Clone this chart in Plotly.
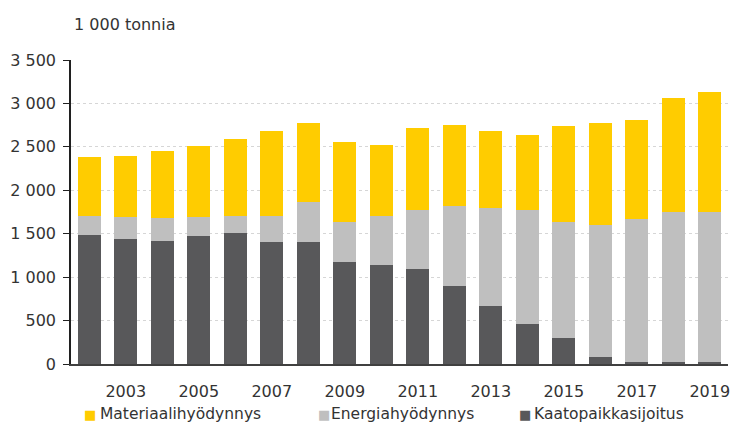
import plotly.graph_objects as go

years = list(range(2002, 2020))
kaatopaikka = [1480, 1440, 1420, 1470, 1505, 1400, 1400, 1175, 1140, 1095, 895, 665, 460, 305, 75, 20, 20, 20]
energia = [220, 250, 265, 220, 200, 305, 465, 455, 560, 675, 920, 1135, 1315, 1325, 1520, 1650, 1730, 1730]
materiaali = [685, 705, 770, 815, 885, 975, 910, 930, 825, 950, 935, 885, 860, 1115, 1180, 1140, 1310, 1380]

names = ["Materiaalihyödynnys", "Energiahyödynnys", "Kaatopaikkasijoitus"]
colors = ["#FFCC00", "#BFBFBF", "#58585A"]
tick_years = list(range(2003, 2020, 2))
y_ticks = [0, 500, 1000, 1500, 2000, 2500, 3000, 3500]

font = "DejaVu Sans, Liberation Sans, sans-serif"
txt = "#333333"

fig = go.Figure()
fig.add_bar(x=years, y=kaatopaikka, name=names[2], marker_color=colors[2])
fig.add_bar(x=years, y=energia, name=names[1], marker_color=colors[1])
fig.add_bar(x=years, y=materiaali, name=names[0], marker_color=colors[0])
fig.update_traces(marker_line_width=0)

# plot area geometry (px) used to place the legend text
L, T, W, H = 71, 60, 657, 304
def px(x):
    return (x - L) / W
def py(y):
    return (T + H - y) / H

annotations = [dict(text="1 000 tonnia", xref="paper", yref="paper", x=px(72), y=py(24.5),
                    xanchor="left", yanchor="middle", showarrow=False,
                    font=dict(size=16, color=txt))]
legend_sym_x = [90, 323.5, 525]
legend_txt_x = [98, 329, 532]
for name, col, sx, tx in zip(names, colors, legend_sym_x, legend_txt_x):
    annotations.append(dict(text="■", xref="paper", yref="paper", x=px(sx), y=py(415),
                            xanchor="center", yanchor="middle", showarrow=False,
                            font=dict(size=13, color=col)))
    annotations.append(dict(text=name, xref="paper", yref="paper", x=px(tx), y=py(414),
                            xanchor="left", yanchor="middle", showarrow=False,
                            font=dict(size=15.5, color=txt)))

fig.update_layout(
    width=732, height=423,
    barmode="stack", bargap=0.37,
    plot_bgcolor="white", paper_bgcolor="white",
    margin=dict(l=L, r=732 - L - W, t=T, b=423 - T - H, autoexpand=False),
    font=dict(family=font, size=16, color=txt),
    separators=", ",
    showlegend=False,
    annotations=annotations,
)

fig.update_xaxes(
    range=[2001.5, 2019.5], tickvals=tick_years, ticktext=[str(y) for y in tick_years],
    showgrid=False, showline=True, linecolor="#404040", linewidth=1.5, ticks="", zeroline=False,
    tickfont=dict(size=16, color=txt), ticklabelstandoff=12,
)
fig.update_yaxes(
    range=[0, 3500], tickvals=y_ticks, tickformat=",d",
    showgrid=True, gridcolor="#d6d6d6", griddash="dot", gridwidth=1,
    showline=True, linecolor="#202020", linewidth=1.5, ticks="outside", ticklen=6, tickcolor="#202020",
    zeroline=False, tickfont=dict(size=16, color=txt), ticklabelstandoff=4,
)

fig.write_html("out.html", config={"displayModeBar": False},
               post_script="document.body.style.margin='0px';document.body.style.overflow='hidden';")
